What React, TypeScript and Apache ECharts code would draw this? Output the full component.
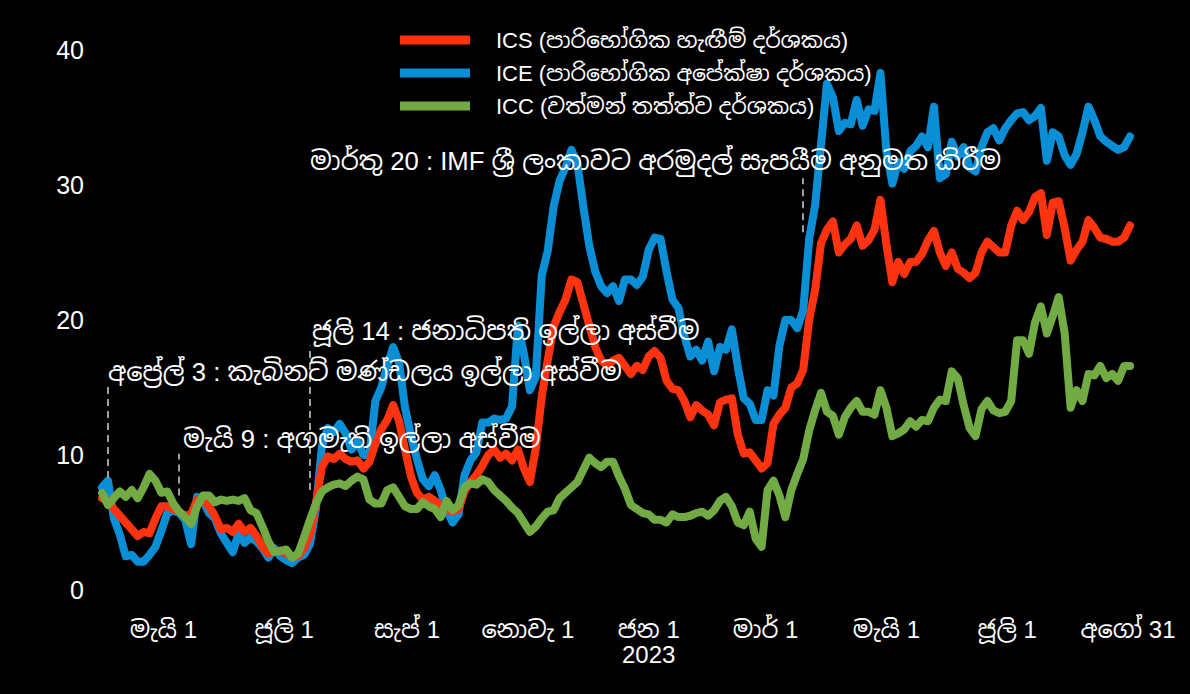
import React, { useEffect, useRef } from 'react';
import * as echarts from 'echarts';

// Sampling grid: one reading every 3 days starting 31 Mar 2022
const START_DATE = '2022-03-31';
const STEP_DAYS = 3;

const ICS_NAME = 'ICS (පාරිභෝගික හැඟීම් දර්ශකය)';
const ICE_NAME = 'ICE (පාරිභෝගික අපේක්ෂා දර්ශකය)';
const ICC_NAME = 'ICC (වත්මන් තත්ත්ව දර්ශකය)';

const ICE = [
  7.6, 8.1, 5.3, 4.1, 2.5, 2.6, 2.1, 2.1, 2.6, 3.2,
  4.4, 5.7, 5.9, 5.7, 5.2, 3.4, 6.9, 6.6, 5.7, 5.3,
  4.2, 3.5, 2.8, 4.2, 3.5, 3.9, 3.6, 3.1, 2.4, 3.1,
  2.5, 2.2, 2.0, 2.4, 2.6, 3.4, 6.0, 10.6, 12.0, 11.7,
  12.3, 11.6, 10.4, 11.0, 10.0, 10.0, 14.0, 15.0, 16.6, 18.0,
  16.8, 13.5, 11.4, 9.7, 8.2, 7.7, 8.5, 7.4, 5.9, 5.0,
  5.6, 8.5, 9.6, 10.2, 12.4, 12.4, 12.7, 12.6, 12.7, 13.6,
  19.6, 17.5, 14.8, 15.8, 23.3, 25.1, 28.4, 30.3, 31.3, 32.6,
  31.6, 28.4, 25.5, 23.6, 22.5, 22.0, 22.5, 21.4, 23.0, 23.0,
  22.6, 23.2, 25.2, 26.1, 26.0, 23.6, 21.5, 20.9, 18.8, 17.3,
  17.8, 17.0, 18.4, 16.2, 18.0, 17.8, 19.3, 16.5, 14.2, 13.8,
  12.6, 12.6, 14.8, 14.4, 18.1, 20.0, 20.0, 19.4, 20.7, 26.0,
  28.5, 33.0, 37.5, 36.5, 34.0, 34.6, 34.5, 36.3, 34.4, 35.6,
  35.5, 38.3, 32.5, 30.1, 31.7, 31.2, 32.5, 32.9, 33.6, 32.8,
  35.8, 30.5, 30.8, 33.2, 32.1, 32.8, 31.3, 31.0, 32.8, 33.9,
  34.2, 33.3, 34.2, 34.8, 35.3, 35.4, 34.8, 35.1, 35.7, 31.8,
  33.9, 33.6, 32.2, 31.5, 32.3, 33.9, 35.8, 34.8, 33.6, 33.2,
  32.9, 32.6, 32.8, 33.6,
];

const ICS = [
  6.8, 6.6, 6.0, 5.5, 5.0, 4.5, 4.0, 4.3, 4.2, 5.3,
  6.2, 6.2, 6.0, 5.8, 5.5, 5.6, 6.7, 6.7, 6.2, 5.5,
  4.5, 4.6, 4.3, 4.9, 4.3, 4.6, 4.0, 3.2, 2.7, 2.9,
  2.9, 2.7, 2.5, 2.5, 3.1, 4.1, 6.4, 9.1, 9.9, 9.7,
  10.1, 9.7, 9.5, 9.6, 9.0, 9.5, 10.8, 11.9, 12.6, 13.7,
  12.5, 10.4, 8.4, 7.2, 6.7, 6.9, 6.6, 6.3, 6.0, 5.8,
  6.0, 7.3, 8.0, 8.5, 9.2, 10.0, 10.4, 9.8, 10.1, 9.6,
  10.4, 9.0, 8.0, 10.5, 14.3, 17.0, 19.5, 20.6, 21.5, 23.0,
  22.8, 21.2, 19.6, 18.0, 17.0, 16.6, 17.0, 17.2, 16.6, 16.0,
  16.6, 16.3, 17.3, 17.7, 17.2, 15.5, 14.9, 14.8, 14.0, 12.8,
  13.7, 13.3, 13.0, 12.2, 13.9, 14.1, 14.2, 11.5, 10.1, 10.2,
  9.6, 9.0, 9.4, 12.3, 13.0, 13.5, 15.0, 15.3, 16.3, 20.0,
  22.2, 25.7, 26.7, 27.3, 25.0, 25.6, 26.0, 27.0, 25.5, 25.9,
  26.7, 28.9, 25.6, 22.8, 24.3, 23.4, 24.3, 24.3, 24.9, 25.9,
  26.6, 25.0, 24.0, 25.0, 23.8, 23.5, 23.1, 23.5, 25.0, 25.8,
  25.4, 25.0, 25.0, 27.0, 28.1, 27.4, 28.0, 29.1, 29.4, 26.3,
  28.7, 28.8, 26.8, 24.4, 25.2, 25.8, 27.4, 26.8, 26.1, 26.0,
  25.8, 25.8, 26.1, 27.0,
];

const ICC = [
  7.2, 6.3, 6.8, 7.3, 6.9, 7.4, 6.8, 7.6, 8.6, 8.1,
  7.2, 7.3, 6.4, 5.8, 5.4, 4.9, 6.2, 7.0, 7.0, 6.5,
  6.7, 6.6, 6.7, 6.6, 6.8, 5.9, 5.7, 4.7, 3.6, 2.8,
  2.9, 3.0, 2.4, 2.7, 3.9, 5.2, 6.4, 7.3, 7.6, 7.8,
  7.9, 7.7, 8.1, 8.4, 8.2, 6.7, 6.4, 6.4, 7.4, 7.6,
  6.9, 6.2, 6.0, 6.0, 6.5, 6.2, 6.0, 5.4, 6.6, 5.9,
  6.3, 7.6, 7.9, 7.8, 8.2, 8.0, 7.4, 7.0, 6.6, 6.1,
  5.7, 5.0, 4.3, 4.7, 5.3, 5.8, 5.9, 6.8, 7.2, 7.6,
  8.0, 8.9, 9.8, 9.4, 9.1, 9.5, 9.5, 8.4, 7.5, 6.3,
  6.0, 5.7, 5.6, 5.2, 5.2, 5.0, 5.6, 5.4, 5.4, 5.5,
  5.7, 5.8, 5.5, 5.9, 6.6, 6.9, 6.2, 5.0, 4.8, 5.8,
  3.8, 3.2, 7.4, 8.1, 7.0, 5.4, 7.4, 8.6, 9.7, 11.8,
  13.3, 14.6, 13.2, 12.9, 11.5, 12.8, 13.5, 14.0, 13.2, 13.2,
  13.0, 14.8, 13.5, 11.4, 11.6, 11.9, 12.5, 12.1, 12.6, 12.5,
  13.5, 14.1, 14.0, 16.2, 15.7, 13.7, 12.0, 11.4, 13.4, 14.0,
  13.3, 13.1, 13.2, 14.0, 18.5, 18.5, 17.5, 19.8, 21.0, 19.0,
  20.3, 21.7, 19.0, 13.5, 14.8, 14.0, 16.0, 15.9, 16.6, 15.7,
  16.0, 15.5, 16.6, 16.6,
];

const TICK_DATES = ['2022-05-01', '2022-07-01', '2022-09-01', '2022-11-01', '2023-01-01', '2023-03-01', '2023-05-01', '2023-07-01', '2023-08-31'];
const TICK_LABELS = ['මැයි 1', 'ජූලි 1', 'සැප් 1', 'නොවැ 1', 'ජන 1\n2023', 'මාර් 1', 'මැයි 1', 'ජූලි 1', 'අගෝ 31'];

const X_MIN = '2022-03-30';
const X_MAX = '2023-09-03';

const EVENT_DATES = ['2022-04-03', '2022-05-09', '2022-07-14', '2023-03-20'];
const EVENT_RANGES = [[8.3, 15.2], [7.0, 10.1], [7.4, 18.1], [26.5, 30.5]];
const EVENT_TEXTS = [
  'අප්\u200dරේල් 3 : කැබිනට් මණ්ඩලය ඉල්ලා අස්වීම',
  'මැයි 9 : අගමැති ඉල්ලා අස්වීම',
  'ජූලි 14 : ජනාධිපති ඉල්ලා අස්වීම',
  'මාර්තු 20 : IMF ශ්\u200dරී ලංකාවට අරමුදල් සැපයීම අනුමත කිරීම',
];

const FONT = 'Arial, "Liberation Sans", "Noto Sans Sinhala", sans-serif';
const DAY_MS = 86400000;
const ts = (s: string) => new Date(s + 'T00:00:00Z').getTime();

function pairs(values: number[]) {
  const t0 = ts(START_DATE);
  return values.map((v, i) => [t0 + i * STEP_DAYS * DAY_MS, v]);
}

export default function App() {
  const ref = useRef<HTMLDivElement>(null);
  useEffect(() => {
    if (!ref.current) return;
    const chart = echarts.init(ref.current, null, { renderer: 'svg' });
    const tickTs = TICK_DATES.map(ts);
    const markData = EVENT_DATES.map((d, i) => [
      { coord: [ts(d), EVENT_RANGES[i][0]] },
      { coord: [ts(d), EVENT_RANGES[i][1]] },
    ]);
    const lineSeries = (name: string, data: number[], color: string, z: number, extra: any = {}) => ({
      name,
      type: 'line',
      data: pairs(data),
      showSymbol: false,
      symbol: 'none',
      z,
      lineStyle: { color, width: 8, join: 'round', cap: 'round' },
      itemStyle: { color },
      ...extra,
    });
    const annFont = `25.7px ${FONT}`;
    chart.setOption({
      animation: false,
      backgroundColor: '#000',
      textStyle: { fontFamily: FONT },
      grid: { left: 100, right: 56, top: 50, bottom: 104, containLabel: false },
      legend: {
        data: [ICS_NAME, ICE_NAME, ICC_NAME],
        orient: 'vertical',
        left: 395,
        top: 23,
        icon: 'rect',
        itemWidth: 70,
        itemHeight: 9,
        itemGap: 9,
        textStyle: { color: '#fff', fontSize: 22, lineHeight: 24, padding: [0, 0, 0, 21], fontFamily: FONT },
      },
      xAxis: {
        type: 'value',
        min: ts(X_MIN),
        max: ts(X_MAX),
        splitLine: { show: false },
        axisLine: { show: false },
        axisTick: { show: false },
        axisLabel: {
          customValues: tickTs,
          color: '#fff',
          fontSize: 24,
          lineHeight: 25,
          margin: 27,
          fontFamily: FONT,
          formatter: (v: number) => {
            const idx = tickTs.indexOf(v);
            return idx >= 0 ? TICK_LABELS[idx] : '';
          },
        },
      },
      yAxis: {
        type: 'value',
        min: 0,
        max: 40,
        interval: 10,
        splitLine: { show: false },
        axisLine: { show: false },
        axisTick: { show: false },
        axisLabel: { color: '#fff', fontSize: 25, margin: 16, fontFamily: FONT },
      },
      series: [
        lineSeries(ICE_NAME, ICE, '#0a8fd6', 2, {
          markLine: {
            silent: true,
            symbol: ['none', 'none'],
            label: { show: false },
            lineStyle: { color: '#a0a0a0', width: 2, type: [7, 5] },
            data: markData,
          },
        }),
        lineSeries(ICS_NAME, ICS, '#ff3310', 3),
        lineSeries(ICC_NAME, ICC, '#72ab44', 4),
      ],
      graphic: [
        { type: 'text', left: 108, top: 359, z: 100, style: { text: EVENT_TEXTS[0], fill: '#fff', font: annFont } },
        { type: 'text', left: 183, top: 426, z: 100, style: { text: EVENT_TEXTS[1], fill: '#fff', font: annFont } },
        { type: 'text', left: 312, top: 318, z: 100, style: { text: EVENT_TEXTS[2], fill: '#fff', font: annFont } },
        { type: 'text', left: 310, top: 148, z: 100, style: { text: EVENT_TEXTS[3], fill: '#fff', font: annFont } },
      ],
    });
    return () => chart.dispose();
  }, []);
  return <div ref={ref} style={{ position: 'fixed', left: 0, top: 0, width: 1190, height: 694 }} />;
}
